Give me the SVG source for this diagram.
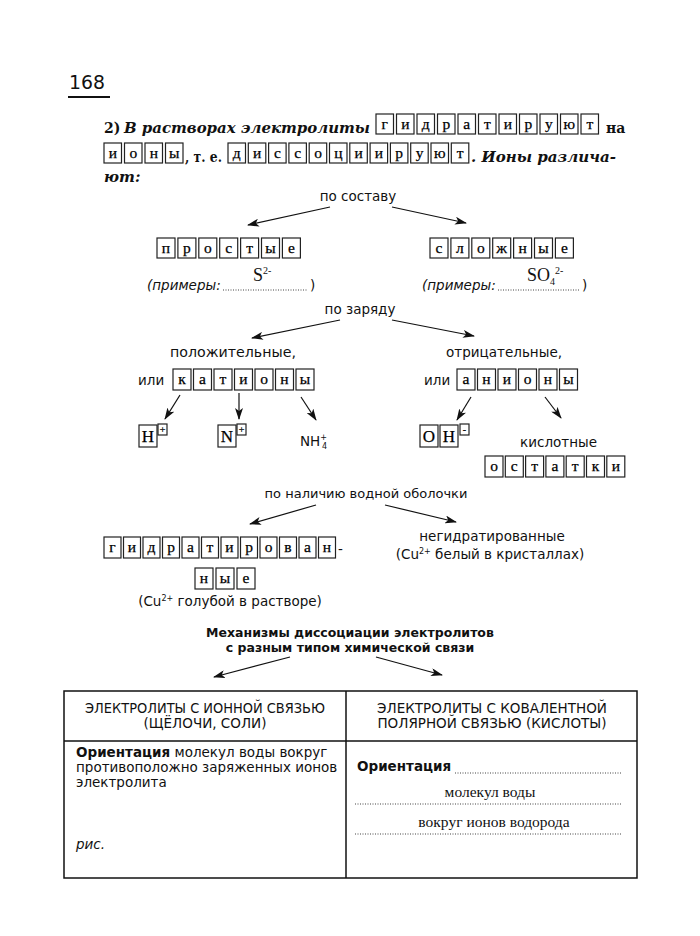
<svg xmlns="http://www.w3.org/2000/svg" width="700" height="936" viewBox="0 0 700 936">
<style>
.b{fill:#fff;stroke:#222;stroke-width:1.2}
.l{font-family:"Liberation Serif","DejaVu Serif",serif;font-size:15.5px;fill:#000;text-anchor:middle;stroke:#000;stroke-width:0.25}
.big{font-size:17px}
.sm{font-size:10px}
.hd{font-family:"DejaVu Serif",serif;font-size:15px;font-weight:bold;font-style:italic;fill:#111}
.hu{font-family:"DejaVu Serif",serif;font-size:14px;font-weight:bold;fill:#111}
.s{font-family:"DejaVu Sans","Liberation Sans",sans-serif;font-size:13.5px;fill:#111}
.c{text-anchor:middle}
.sr{font-family:"Liberation Serif",serif;font-size:15.5px;fill:#111}
.f{font-size:18px}
.t{font-weight:bold;font-size:12.5px}
.dot{stroke:#444;stroke-width:1;stroke-dasharray:1 1.5;fill:none}
.ar{stroke:#111;stroke-width:1.2;fill:none;marker-end:url(#ah)}
.tb{stroke:#111;stroke-width:1.5;fill:none}
</style>
<defs>
<marker id="ah" viewBox="0 0 12 8" refX="11" refY="4" markerWidth="12" markerHeight="8" markerUnits="userSpaceOnUse" orient="auto">
<path d="M0,0 L12,4 L0,8 L3,4 Z" fill="#111"/>
</marker>
</defs>

<g id="page-number">
<text x="69" y="89" font-family="DejaVu Sans,sans-serif" font-size="20" fill="#111" textLength="36" lengthAdjust="spacingAndGlyphs">168</text>
<line x1="68" y1="97" x2="110" y2="97" stroke="#111" stroke-width="2"/>
</g>

<g id="intro">
<text class="hu" x="104" y="133">2)</text>
<text class="hd" x="124" y="133" textLength="246" lengthAdjust="spacingAndGlyphs">В растворах электролиты</text>
<g id="w-gidratiruyut">
<rect class="b" x="376" y="114" width="17.5" height="20"/><text class="l" x="384.8" y="129">г</text>
<rect class="b" x="396.5" y="114" width="17.5" height="20"/><text class="l" x="405.3" y="129">и</text>
<rect class="b" x="417" y="114" width="17.5" height="20"/><text class="l" x="425.8" y="129">д</text>
<rect class="b" x="437.5" y="114" width="17.5" height="20"/><text class="l" x="446.3" y="129">р</text>
<rect class="b" x="458" y="114" width="17.5" height="20"/><text class="l" x="466.8" y="129">а</text>
<rect class="b" x="478.5" y="114" width="17.5" height="20"/><text class="l" x="487.3" y="129">т</text>
<rect class="b" x="499" y="114" width="17.5" height="20"/><text class="l" x="507.8" y="129">и</text>
<rect class="b" x="519.5" y="114" width="17.5" height="20"/><text class="l" x="528.3" y="129">р</text>
<rect class="b" x="540" y="114" width="17.5" height="20"/><text class="l" x="548.8" y="129">у</text>
<rect class="b" x="560.5" y="114" width="17.5" height="20"/><text class="l" x="569.3" y="129">ю</text>
<rect class="b" x="581" y="114" width="17.5" height="20"/><text class="l" x="589.8" y="129">т</text>
</g>
<text class="hu" x="606" y="133">на</text>
<g id="w-iony">
<rect class="b" x="104" y="143" width="17.5" height="20"/><text class="l" x="112.8" y="158">и</text>
<rect class="b" x="124.5" y="143" width="17.5" height="20"/><text class="l" x="133.3" y="158">о</text>
<rect class="b" x="145" y="143" width="17.5" height="20"/><text class="l" x="153.8" y="158">н</text>
<rect class="b" x="165.5" y="143" width="17.5" height="20"/><text class="l" x="174.3" y="158">ы</text>
</g>
<text class="hu" x="185" y="162" textLength="37" lengthAdjust="spacingAndGlyphs">, т. е.</text>
<g id="w-dissotsiiruyut">
<rect class="b" x="228" y="143" width="17.5" height="20"/><text class="l" x="236.8" y="158">д</text>
<rect class="b" x="248.3" y="143" width="17.5" height="20"/><text class="l" x="257.1" y="158">и</text>
<rect class="b" x="268.6" y="143" width="17.5" height="20"/><text class="l" x="277.4" y="158">с</text>
<rect class="b" x="288.9" y="143" width="17.5" height="20"/><text class="l" x="297.7" y="158">с</text>
<rect class="b" x="309.2" y="143" width="17.5" height="20"/><text class="l" x="318" y="158">о</text>
<rect class="b" x="329.5" y="143" width="17.5" height="20"/><text class="l" x="338.3" y="158">ц</text>
<rect class="b" x="349.8" y="143" width="17.5" height="20"/><text class="l" x="358.6" y="158">и</text>
<rect class="b" x="370.1" y="143" width="17.5" height="20"/><text class="l" x="378.9" y="158">и</text>
<rect class="b" x="390.4" y="143" width="17.5" height="20"/><text class="l" x="399.2" y="158">р</text>
<rect class="b" x="410.7" y="143" width="17.5" height="20"/><text class="l" x="419.5" y="158">у</text>
<rect class="b" x="431" y="143" width="17.5" height="20"/><text class="l" x="439.8" y="158">ю</text>
<rect class="b" x="451.3" y="143" width="17.5" height="20"/><text class="l" x="460.1" y="158">т</text>
</g>
<text class="hd" x="471" y="162" textLength="145" lengthAdjust="spacingAndGlyphs">. Ионы различа-</text>
<text class="hd" x="104" y="182">ют:</text>
</g>

<g id="composition">
<text class="s c" x="358" y="201">по составу</text>
<g id="simple">
<rect class="b" x="157" y="238" width="18" height="20"/><text class="l" x="166" y="253">п</text>
<rect class="b" x="177.9" y="238" width="18" height="20"/><text class="l" x="186.9" y="253">р</text>
<rect class="b" x="198.8" y="238" width="18" height="20"/><text class="l" x="207.8" y="253">о</text>
<rect class="b" x="219.7" y="238" width="18" height="20"/><text class="l" x="228.7" y="253">с</text>
<rect class="b" x="240.6" y="238" width="18" height="20"/><text class="l" x="249.6" y="253">т</text>
<rect class="b" x="261.5" y="238" width="18" height="20"/><text class="l" x="270.5" y="253">ы</text>
<rect class="b" x="282.4" y="238" width="18" height="20"/><text class="l" x="291.4" y="253">е</text>
<text class="s" x="147" y="290" font-style="italic">(примеры:</text>
<text class="sr f" x="253" y="281">S<tspan font-size="10" dy="-7">2-</tspan></text>
<line class="dot" x1="223" y1="290" x2="308" y2="290"/>
<text class="s" x="310" y="290">)</text>
</g>
<g id="complex">
<rect class="b" x="430" y="238" width="18" height="20"/><text class="l" x="439" y="253">с</text>
<rect class="b" x="450.9" y="238" width="18" height="20"/><text class="l" x="459.9" y="253">л</text>
<rect class="b" x="471.8" y="238" width="18" height="20"/><text class="l" x="480.8" y="253">о</text>
<rect class="b" x="492.7" y="238" width="18" height="20"/><text class="l" x="501.7" y="253">ж</text>
<rect class="b" x="513.6" y="238" width="18" height="20"/><text class="l" x="522.6" y="253">н</text>
<rect class="b" x="534.5" y="238" width="18" height="20"/><text class="l" x="543.5" y="253">ы</text>
<rect class="b" x="555.4" y="238" width="18" height="20"/><text class="l" x="564.4" y="253">е</text>
<text class="s" x="422" y="290" font-style="italic">(примеры:</text>
<text class="sr f" x="527" y="281">SO<tspan font-size="10" dy="4">4</tspan><tspan font-size="10" dy="-11">2-</tspan></text>
<line class="dot" x1="498" y1="290" x2="580" y2="290"/>
<text class="s" x="582" y="290">)</text>
</g>
</g>

<g id="charge">
<text class="s c" x="360" y="314">по заряду</text>
<g id="positive">
<text class="s" x="170" y="357" textLength="126" lengthAdjust="spacingAndGlyphs">положительные,</text>
<text class="s" x="138" y="385">или</text>
<rect class="b" x="173" y="369" width="18" height="21"/><text class="l" x="182" y="384">к</text>
<rect class="b" x="193.5" y="369" width="18" height="21"/><text class="l" x="202.5" y="384">а</text>
<rect class="b" x="214" y="369" width="18" height="21"/><text class="l" x="223" y="384">т</text>
<rect class="b" x="234.5" y="369" width="18" height="21"/><text class="l" x="243.5" y="384">и</text>
<rect class="b" x="255" y="369" width="18" height="21"/><text class="l" x="264" y="384">о</text>
<rect class="b" x="275.5" y="369" width="18" height="21"/><text class="l" x="284.5" y="384">н</text>
<rect class="b" x="296" y="369" width="18" height="21"/><text class="l" x="305" y="384">ы</text>
</g>
<g id="ion-H">
<rect class="b" x="139" y="425" width="18" height="22"/><text class="l big" x="148" y="442">H</text>
<rect class="b" x="158" y="424" width="9" height="11"/><text class="l sm" x="162.5" y="433">+</text>
</g>
<g id="ion-Na">
<rect class="b" x="218" y="425" width="18" height="22"/><text class="l big" x="227" y="442">N</text>
<rect class="b" x="237" y="424" width="9" height="11"/><text class="l sm" x="241.5" y="433">+</text>
</g>
<g id="ion-NH4">
<text class="s" x="300" y="446">NH<tspan font-size="8" dy="-6">+</tspan><tspan font-size="8" dx="-5" dy="9">4</tspan></text>
</g>
<g id="negative">
<text class="s" x="446" y="357" textLength="116" lengthAdjust="spacingAndGlyphs">отрицательные,</text>
<text class="s" x="424" y="385">или</text>
<rect class="b" x="457" y="369" width="18" height="21"/><text class="l" x="466" y="384">а</text>
<rect class="b" x="477.5" y="369" width="18" height="21"/><text class="l" x="486.5" y="384">н</text>
<rect class="b" x="498" y="369" width="18" height="21"/><text class="l" x="507" y="384">и</text>
<rect class="b" x="518.5" y="369" width="18" height="21"/><text class="l" x="527.5" y="384">о</text>
<rect class="b" x="539" y="369" width="18" height="21"/><text class="l" x="548" y="384">н</text>
<rect class="b" x="559.5" y="369" width="18" height="21"/><text class="l" x="568.5" y="384">ы</text>
</g>
<g id="ion-OH">
<rect class="b" x="420" y="425" width="18" height="22"/><text class="l big" x="429" y="442">O</text>
<rect class="b" x="440" y="425" width="18" height="22"/><text class="l big" x="449" y="442">H</text>
<rect class="b" x="460" y="424" width="9" height="11"/><text class="l sm" x="464.5" y="433">-</text>
</g>
<g id="acid-residues">
<text class="s" x="520" y="447" textLength="77" lengthAdjust="spacingAndGlyphs">кислотные</text>
<rect class="b" x="485" y="456" width="18" height="21"/><text class="l" x="494" y="471">о</text>
<rect class="b" x="505.3" y="456" width="18" height="21"/><text class="l" x="514.3" y="471">с</text>
<rect class="b" x="525.6" y="456" width="18" height="21"/><text class="l" x="534.6" y="471">т</text>
<rect class="b" x="545.9" y="456" width="18" height="21"/><text class="l" x="554.9" y="471">а</text>
<rect class="b" x="566.2" y="456" width="18" height="21"/><text class="l" x="575.2" y="471">т</text>
<rect class="b" x="586.5" y="456" width="18" height="21"/><text class="l" x="595.5" y="471">к</text>
<rect class="b" x="606.8" y="456" width="18" height="21"/><text class="l" x="615.8" y="471">и</text>
</g>
</g>

<g id="hydration">
<text class="s c" x="366" y="498" style="font-size:13px">по наличию водной оболочки</text>
<g id="hydrated">
<rect class="b" x="104" y="537" width="17" height="21"/><text class="l" x="112.5" y="552">г</text>
<rect class="b" x="123.5" y="537" width="17" height="21"/><text class="l" x="132" y="552">и</text>
<rect class="b" x="143" y="537" width="17" height="21"/><text class="l" x="151.5" y="552">д</text>
<rect class="b" x="162.5" y="537" width="17" height="21"/><text class="l" x="171" y="552">р</text>
<rect class="b" x="182" y="537" width="17" height="21"/><text class="l" x="190.5" y="552">а</text>
<rect class="b" x="201.5" y="537" width="17" height="21"/><text class="l" x="210" y="552">т</text>
<rect class="b" x="221" y="537" width="17" height="21"/><text class="l" x="229.5" y="552">и</text>
<rect class="b" x="240.5" y="537" width="17" height="21"/><text class="l" x="249" y="552">р</text>
<rect class="b" x="260" y="537" width="17" height="21"/><text class="l" x="268.5" y="552">о</text>
<rect class="b" x="279.5" y="537" width="17" height="21"/><text class="l" x="288" y="552">в</text>
<rect class="b" x="299" y="537" width="17" height="21"/><text class="l" x="307.5" y="552">а</text>
<rect class="b" x="318.5" y="537" width="17" height="21"/><text class="l" x="327" y="552">н</text>
<text class="s" x="338" y="554">-</text>
<rect class="b" x="195" y="568" width="18" height="21"/><text class="l" x="204" y="583">н</text>
<rect class="b" x="216" y="568" width="18" height="21"/><text class="l" x="225" y="583">ы</text>
<rect class="b" x="237" y="568" width="18" height="21"/><text class="l" x="246" y="583">е</text>
<text class="s c" x="230" y="606">(Cu<tspan font-size="8" dy="-5">2+</tspan><tspan dy="5"> голубой в растворе)</tspan></text>
</g>
<g id="non-hydrated">
<text class="s c" x="492" y="541">негидратированные</text>
<text class="s c" x="490" y="559">(Cu<tspan font-size="8" dy="-5">2+</tspan><tspan dy="5"> белый в кристаллах)</tspan></text>
</g>
</g>

<g id="mechanisms">
<text class="s c t" x="350" y="637">Механизмы диссоциации электролитов</text>
<text class="s c t" x="350" y="652">с разным типом химической связи</text>
</g>

<g id="table">
<rect class="tb" x="64" y="691" width="573" height="187"/>
<line class="tb" x1="64" y1="741" x2="637" y2="741"/>
<line class="tb" x1="346" y1="691" x2="346" y2="878"/>
<text class="s c" x="205" y="713" textLength="240" lengthAdjust="spacingAndGlyphs">ЭЛЕКТРОЛИТЫ С ИОННОЙ СВЯЗЬЮ</text>
<text class="s c" x="205" y="728">(ЩЁЛОЧИ, СОЛИ)</text>
<text class="s c" x="492" y="713">ЭЛЕКТРОЛИТЫ С КОВАЛЕНТНОЙ</text>
<text class="s c" x="492" y="728">ПОЛЯРНОЙ СВЯЗЬЮ (КИСЛОТЫ)</text>
<text class="s" x="76" y="757"><tspan font-weight="bold">Ориентация</tspan> молекул воды вокруг</text>
<text class="s" x="76" y="772">противоположно заряженных ионов</text>
<text class="s" x="76" y="787">электролита</text>
<text class="s" x="76" y="849" font-style="italic">рис.</text>
<text class="s" x="357" y="771" font-weight="bold">Ориентация</text>
<line class="dot" x1="455" y1="773" x2="622" y2="773"/>
<text class="sr c" x="490" y="797">молекул воды</text>
<line class="dot" x1="355" y1="804" x2="622" y2="804"/>
<text class="sr c" x="494" y="827">вокруг ионов водорода</text>
<line class="dot" x1="355" y1="834" x2="622" y2="834"/>
</g>

<g id="connectors">
<line class="ar" x1="330" y1="207" x2="248" y2="225"/>
<line class="ar" x1="392" y1="207" x2="466" y2="223"/>
<line class="ar" x1="340" y1="320" x2="252" y2="338"/>
<line class="ar" x1="392" y1="320" x2="474" y2="336"/>
<line class="ar" x1="180" y1="395" x2="165" y2="419"/>
<line class="ar" x1="239" y1="393" x2="239" y2="419"/>
<line class="ar" x1="301" y1="397" x2="316" y2="420"/>
<line class="ar" x1="471" y1="397" x2="457" y2="420"/>
<line class="ar" x1="545" y1="397" x2="561" y2="418"/>
<line class="ar" x1="316" y1="505" x2="250" y2="524"/>
<line class="ar" x1="385" y1="505" x2="456" y2="522"/>
<line class="ar" x1="290" y1="657" x2="214" y2="677"/>
<line class="ar" x1="376" y1="657" x2="442" y2="675"/>
</g>
</svg>
